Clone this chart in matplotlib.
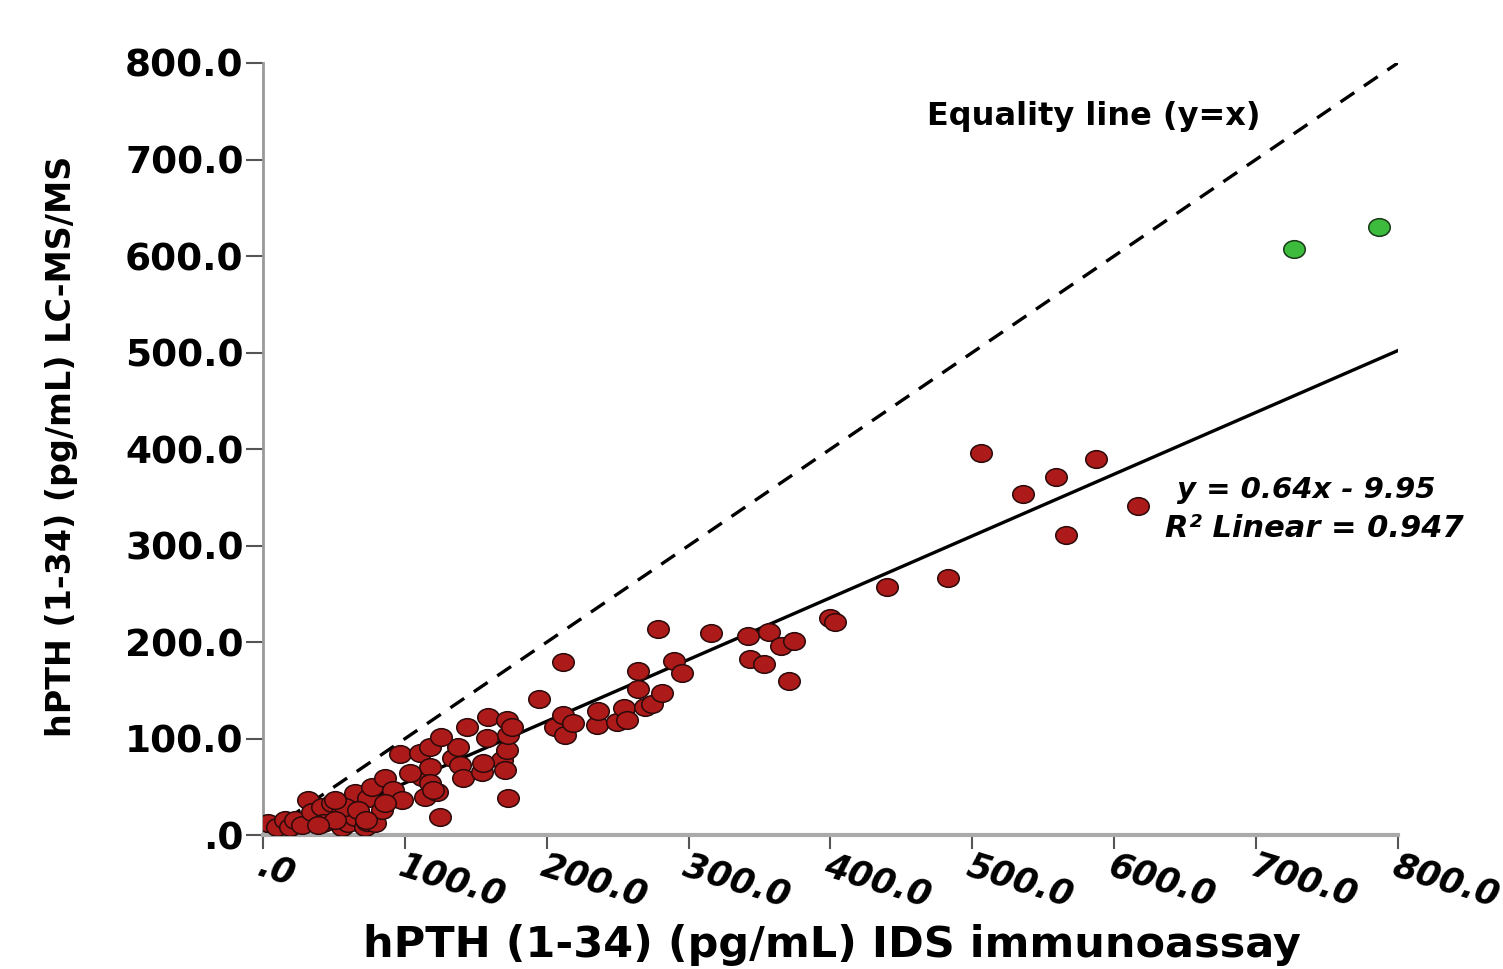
import matplotlib.pyplot as plt
import numpy as np
from matplotlib.path import Path

plt.rcParams['font.family'] = ['DejaVu Sans']

# IDS immunoassay (x) vs LC-MS/MS (y), hPTH (1-34) in pg/mL
ids_red = [3.5, 9.9, 15.5, 19.0, 22.6, 27.5, 31.7, 34.5, 41.6, 42.3, 48.6, 52.1,
           55.7, 55.7, 59.9, 62.7, 64.8, 64.8, 71.9, 73.3, 74.0, 76.8, 78.9, 83.9,
           86.0, 91.6, 96.5, 98.0, 110.6, 112.1, 114.2, 117.7, 117.7, 117.7, 122.6,
           124.7, 133.9, 137.4, 138.8, 140.9, 143.8, 154.3, 157.9, 158.6, 168.4,
           170.5, 172.0, 172.0, 172.7, 172.7, 175.5,
           57.8, 67.0, 86.0, 50.7, 72.6, 38.8, 125.4, 155.0, 103.6, 119.8, 50.7,
           194.5, 205.8, 211.4, 211.4, 212.8, 218.5, 235.4, 236.1, 249.5, 254.4,
           256.5, 264.3, 264.3, 269.2, 274.1, 278.4, 281.2, 289.6, 295.3, 315.7,
           341.8, 343.2, 353.1, 356.6, 365.0, 370.7, 374.2, 399.6, 403.1, 440.0,
           483.0, 506.0, 535.6, 559.0, 566.0, 587.0, 617.0]
lcms_red = [12.4, 8.3, 15.5, 8.3, 15.5, 10.4, 36.3, 23.8, 29.0, 12.4, 33.2, 13.5,
            23.8, 8.3, 12.4, 29.0, 43.5, 18.7, 8.3, 13.5, 38.3, 49.7, 12.4, 25.9,
            59.1, 46.6, 83.9, 36.3, 85.0, 60.1, 39.4, 91.2, 70.5, 53.9, 44.6,
            18.7, 79.8, 91.2, 72.5, 59.1, 111.9, 65.3, 100.5, 122.3, 77.7,
            67.4, 119.2, 88.1, 103.6, 38.3, 111.9,
            29.0, 26.0, 33.0, 15.5, 15.5, 10.4, 101.6, 74.6, 64.2, 46.6, 36.3,
            140.9, 111.9, 179.3, 124.4, 103.6, 116.1, 114.0, 128.5, 117.1, 131.6,
            119.2, 169.9, 151.3, 132.6, 135.8, 213.5, 147.2, 180.3, 167.9, 209.3,
            206.2, 182.4, 177.2, 210.4, 195.9, 159.6, 201.0, 224.9, 220.7, 257.0,
            266.0, 396.0, 354.0, 371.0, 311.0, 390.0, 341.0]
ids_green = [727.0, 787.0]
lcms_green = [607.0, 630.0]

slope, intercept, r2 = 0.64, -9.95, 0.947
ticks = [0, 100, 200, 300, 400, 500, 600, 700, 800]
tick_labels = ['.0', '100.0', '200.0', '300.0', '400.0', '500.0', '600.0', '700.0', '800.0']

# slightly flattened circle for the markers
circ = Path.unit_circle()
ellipse = Path(circ.vertices * np.array([1.0, 0.82]), circ.codes)

fig = plt.figure(figsize=(15.03, 9.69), dpi=100)
ax = fig.add_axes([0.175, 0.138, 0.755, 0.797])

xs = np.array([0, 800])
ax.plot(xs, xs, color='black', lw=2.4, ls=(0, (5, 3.5)), zorder=2)
ax.plot(xs, slope * xs + intercept, color='black', lw=2.4, zorder=2)

ax.plot(ids_red, lcms_red, marker=ellipse, ms=15.5, ls='none',
        mfc='#ad1a1a', mec='#2a0a0a', mew=1.1, zorder=3)
ax.plot(ids_green, lcms_green, marker=ellipse, ms=15.5, ls='none',
        mfc='#3dbb3d', mec='#1a3a1a', mew=1.1, zorder=3)

ax.set_xlim(0, 800)
ax.set_ylim(0, 800)

ax.set_xticks(ticks)
ax.set_xticklabels(tick_labels, rotation=-17, ha='left', va='top',
                   rotation_mode='anchor', fontsize=25, fontweight='bold', style='italic')
ax.set_yticks(ticks)
ax.set_yticklabels(tick_labels, fontsize=27, fontweight='bold')
ax.tick_params(axis='x', length=10, width=1.5, color='#555555', pad=0)
ax.tick_params(axis='y', length=12, width=1.5, color='#555555', pad=2)

for side in ['top', 'right']:
    ax.spines[side].set_visible(False)
ax.spines['left'].set_color('#999999')
ax.spines['left'].set_linewidth(2)
ax.spines['bottom'].set_color('#aaaaaa')
ax.spines['bottom'].set_linewidth(3)

ax.set_xlabel('hPTH (1-34) (pg/mL) IDS immunoassay', fontsize=31, fontweight='bold', va='center')
ax.xaxis.set_label_coords(0.501, -0.1425)
ax.set_ylabel('hPTH (1-34) (pg/mL) LC-MS/MS', fontsize=24, fontweight='bold', va='center')
ax.yaxis.set_label_coords(-0.178, 0.503)

ax.text(468, 745, 'Equality line (y=x)', fontsize=23, fontweight='bold', va='center')
ax.text(644, 358, 'y = 0.64x - 9.95', fontsize=21, fontweight='bold', style='italic', va='center')
ax.text(636, 318, 'R\u00b2 Linear = %.3f' % r2, fontsize=22, fontweight='bold',
        style='italic', va='center')

fig.savefig('out.png', dpi=100)
